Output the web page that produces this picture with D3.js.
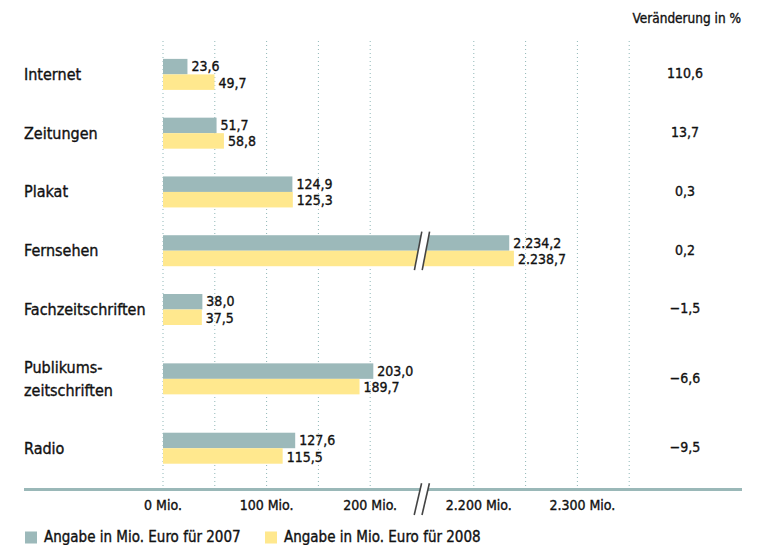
<!DOCTYPE html>
<html>
<head>
<meta charset="utf-8">
<script src="https://cdn.jsdelivr.net/npm/d3@7"></script>
<style>
  html, body { margin: 0; padding: 0; background: #fff; }
  svg { display: block; }
  text { font-family: "DejaVu Sans Condensed", "DejaVu Sans", sans-serif; fill: #111; stroke: #111; stroke-width: 0.35px; }
</style>
</head>
<body>
<svg id="chart" width="765" height="545"></svg>
<script>
// ---- data ----
const categories = ["Internet", "Zeitungen", "Plakat", "Fernsehen", "Fachzeitschriften", "Publikums-\nzeitschriften", "Radio"];
const values2007 = [23.6, 51.7, 124.9, 2234.2, 38.0, 203.0, 127.6];
const values2008 = [49.7, 58.8, 125.3, 2238.7, 37.5, 189.7, 115.5];
const changePct = [110.6, 13.7, 0.3, 0.2, -1.5, -6.6, -9.5];
const tickValues = [0, 100, 200, 2200, 2300];
const gridValues = [0, 50, 100, 150, 200, 2200, 2250, 2300, 2350];
const seriesNames = ["Angabe in Mio. Euro für 2007", "Angabe in Mio. Euro für 2008"];
const changeTitle = "Veränderung in %";
const tickSuffix = " Mio.";

// ---- setup ----
const colors = ["#9cb9ba", "#ffe88e"];
const de = d3.formatLocale({ decimal: ",", thousands: ".", grouping: [3], currency: ["", " €"] });
const fmt1 = de.format(",.1f");
const fmtInt = de.format(",d");

const svg = d3.select("#chart");

// broken x-axis: lower segment and upper segment share the same px/unit
const breakLow = 250, breakHigh = 2150;
const xLow = d3.scaleLinear().domain([0, breakLow]).range([163, 422]);
const xHigh = d3.scaleLinear().domain([breakHigh, breakHigh + breakLow]).range([422, 681]);
const x = v => v <= breakLow ? xLow(v) : xHigh(v);
const breakX = xLow(breakLow);

// rows: two-line labels take more vertical room
const lines = categories.map(c => c.split("\n"));
const units = lines.map(l => l.length > 1 ? 1.36 : 1);
const cum = d3.cumsum(units);
const yUnits = d3.scaleLinear().domain([0, d3.sum(units)]).range([45, 477.6]);
const yc = categories.map((c, i) => yUnits(cum[i] - units[i] / 2));
const barH = 15.5;
const axisY = 489.5;
const gridTop = 41;

// gridlines
svg.append("g").selectAll("line").data(gridValues).join("line")
  .attr("x1", d => x(d)).attr("x2", d => x(d))
  .attr("y1", gridTop).attr("y2", axisY)
  .attr("stroke", "#8fb7b7").attr("stroke-width", 1)
  .attr("stroke-dasharray", "1,3");

// bars
const series = [values2007, values2008];
const labelDy = [-3.1, 13.3];
const gBars = svg.append("g");
series.forEach((vals, s) => {
  gBars.selectAll(null).data(vals).join("rect")
    .attr("x", x(0))
    .attr("y", (d, i) => yc[i] - barH + s * barH)
    .attr("width", d => x(d) - x(0))
    .attr("height", barH)
    .attr("fill", colors[s]);
  gBars.selectAll(null).data(vals).join("text")
    .attr("x", d => x(d) + 4)
    .attr("y", (d, i) => yc[i] + labelDy[s])
    .attr("font-size", 14)
    .text(d => fmt1(d));
});

// break marks
function breakMark(cx, y1, y2) {
  const slant = 3.7, gap = 3.9;
  const g = svg.append("g");
  g.append("polygon")
    .attr("points", [
      [cx - gap - slant, y2], [cx + gap - slant, y2],
      [cx + gap + slant, y1], [cx - gap + slant, y1]
    ].map(p => p.join(",")).join(" "))
    .attr("fill", "#fff");
  [-gap, gap].forEach(o => {
    g.append("line")
      .attr("x1", cx + o - slant).attr("y1", y2)
      .attr("x2", cx + o + slant).attr("y2", y1)
      .attr("stroke", "#444").attr("stroke-width", 1.6);
  });
}
categories.forEach((c, i) => {
  const maxV = Math.max(values2007[i], values2008[i]);
  if (maxV > breakLow) breakMark(breakX, yc[i] - barH - 3.5, yc[i] + barH + 4);
});

// category labels
const gCat = svg.append("g");
categories.forEach((c, i) => {
  const l = lines[i];
  l.forEach((t, j) => {
    gCat.append("text")
      .attr("x", 24)
      .attr("y", yc[i] + 5.5 + (j - (l.length - 1) / 2) * 22.4)
      .attr("font-size", 16)
      .text(t);
  });
});

// change column
svg.append("text").attr("x", 741).attr("y", 22.5).attr("text-anchor", "end")
  .attr("font-size", 13.5).text(changeTitle);
svg.append("g").selectAll("text").data(changePct).join("text")
  .attr("x", 685).attr("y", (d, i) => yc[i] + 3.8)
  .attr("text-anchor", "middle").attr("font-size", 14)
  .text(d => fmt1(d));

// axis line
svg.append("line").attr("x1", 24).attr("x2", 742).attr("y1", axisY).attr("y2", axisY)
  .attr("stroke", "#9ab8b8").attr("stroke-width", 3);
breakMark(breakX - 0.2, 483.3, 515);

// tick labels
svg.append("g").selectAll("text").data(tickValues).join("text")
  .attr("x", d => x(d) + (d > breakLow ? 5 : 0))
  .attr("y", 510).attr("text-anchor", "middle").attr("font-size", 14)
  .text(d => fmtInt(d) + tickSuffix);

// legend
const legX = [25, 265];
seriesNames.forEach((n, s) => {
  svg.append("rect").attr("x", legX[s]).attr("y", 531.5).attr("width", 12).attr("height", 12)
    .attr("fill", colors[s]);
  svg.append("text").attr("x", legX[s] + 19).attr("y", 542).attr("font-size", 15).text(n);
});
</script>
</body>
</html>
